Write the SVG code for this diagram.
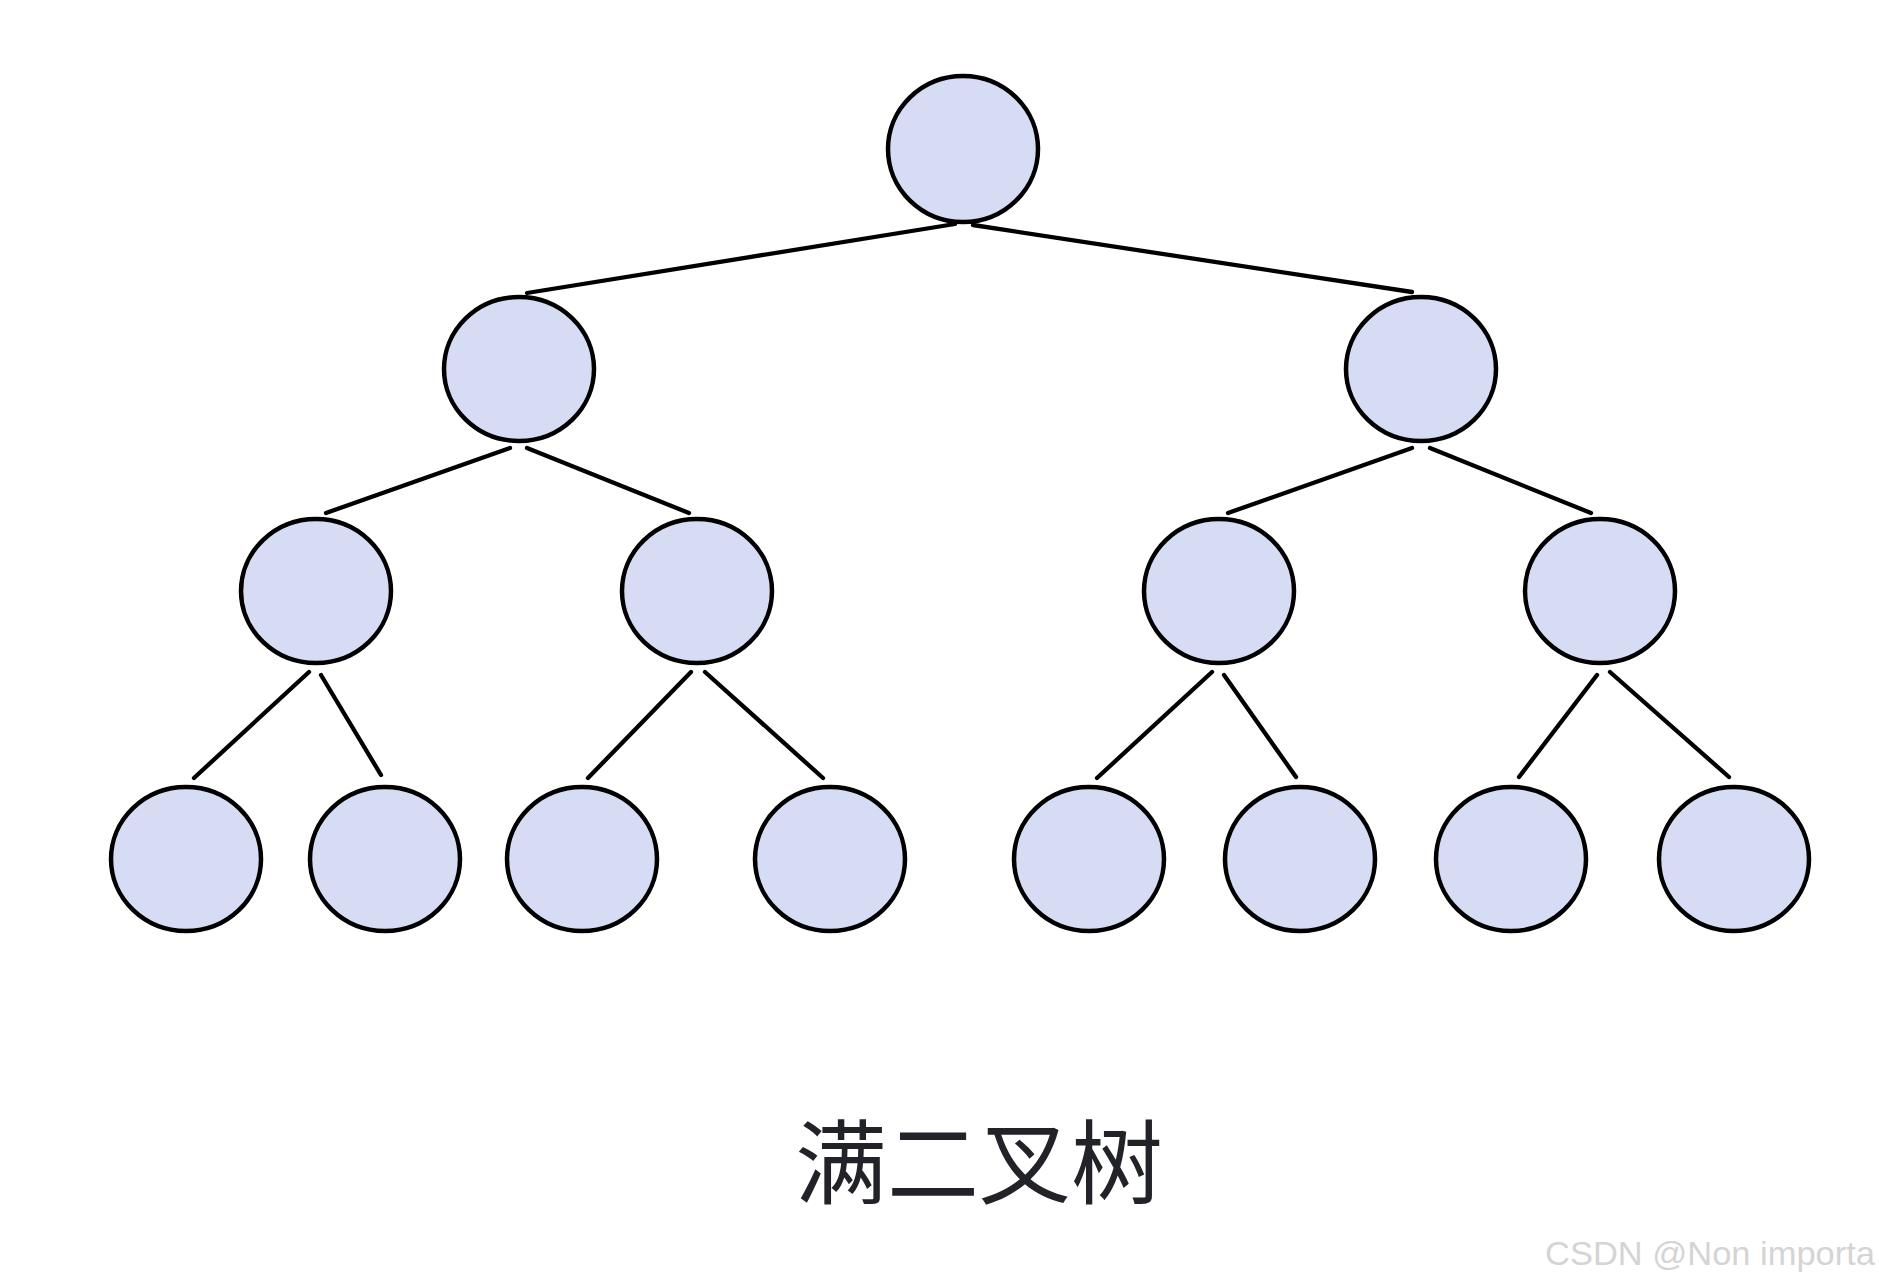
<svg xmlns="http://www.w3.org/2000/svg" width="1879" height="1287" viewBox="0 0 1879 1287">
<style>
.n{fill:#d6dcf3;stroke:#000;stroke-width:4.5}
.e{stroke:#000;stroke-width:4.3;stroke-linecap:round;fill:none}
.t{font-family:"Noto Sans CJK SC","Noto Sans",sans-serif;font-size:92px;fill:#212329}
.w{font-family:"Liberation Sans",Arial,sans-serif;font-size:33px;fill:#d4d4d4}
</style>
<rect width="1879" height="1287" fill="#fff"/>
<g id="connectors">
<line class="e" x1="955" y1="224" x2="527" y2="293"/>
<line class="e" x1="973" y1="225" x2="1412" y2="292"/>
<line class="e" x1="510" y1="448" x2="326" y2="513"/>
<line class="e" x1="527" y1="448" x2="689" y2="513"/>
<line class="e" x1="1412" y1="448" x2="1228" y2="513"/>
<line class="e" x1="1430" y1="448" x2="1591" y2="513"/>
<line class="e" x1="309" y1="672" x2="194" y2="778"/>
<line class="e" x1="321" y1="675" x2="381" y2="775"/>
<line class="e" x1="691" y1="672" x2="588" y2="778"/>
<line class="e" x1="705" y1="672" x2="823" y2="778"/>
<line class="e" x1="1212" y1="672" x2="1097" y2="778"/>
<line class="e" x1="1224" y1="675" x2="1296" y2="777"/>
<line class="e" x1="1597" y1="675" x2="1519" y2="777"/>
<line class="e" x1="1610" y1="672" x2="1729" y2="777"/>
</g>
<g id="root"><ellipse class="n" cx="963" cy="149" rx="75" ry="73"/></g>
<g id="l1a"><ellipse class="n" cx="519" cy="369" rx="75" ry="72"/></g>
<g id="l1b"><ellipse class="n" cx="1421" cy="369" rx="75" ry="72"/></g>
<g id="l2a"><ellipse class="n" cx="316" cy="591" rx="75" ry="72"/></g>
<g id="l2b"><ellipse class="n" cx="697" cy="591" rx="75" ry="72"/></g>
<g id="l2c"><ellipse class="n" cx="1219" cy="591" rx="75" ry="72"/></g>
<g id="l2d"><ellipse class="n" cx="1600" cy="591" rx="75" ry="72"/></g>
<g id="l3a"><ellipse class="n" cx="186" cy="859" rx="75" ry="72"/></g>
<g id="l3b"><ellipse class="n" cx="385" cy="859" rx="75" ry="72"/></g>
<g id="l3c"><ellipse class="n" cx="582" cy="859" rx="75" ry="72"/></g>
<g id="l3d"><ellipse class="n" cx="830" cy="859" rx="75" ry="72"/></g>
<g id="l3e"><ellipse class="n" cx="1089" cy="859" rx="75" ry="72"/></g>
<g id="l3f"><ellipse class="n" cx="1300" cy="859" rx="75" ry="72"/></g>
<g id="l3g"><ellipse class="n" cx="1511" cy="859" rx="75" ry="72"/></g>
<g id="l3h"><ellipse class="n" cx="1734" cy="859" rx="75" ry="72"/></g>
<text class="t" x="979" y="1197" text-anchor="middle">满二叉树</text>
<text class="w" x="1545" y="1265" textLength="330" lengthAdjust="spacingAndGlyphs">CSDN @Non importa</text>
</svg>
